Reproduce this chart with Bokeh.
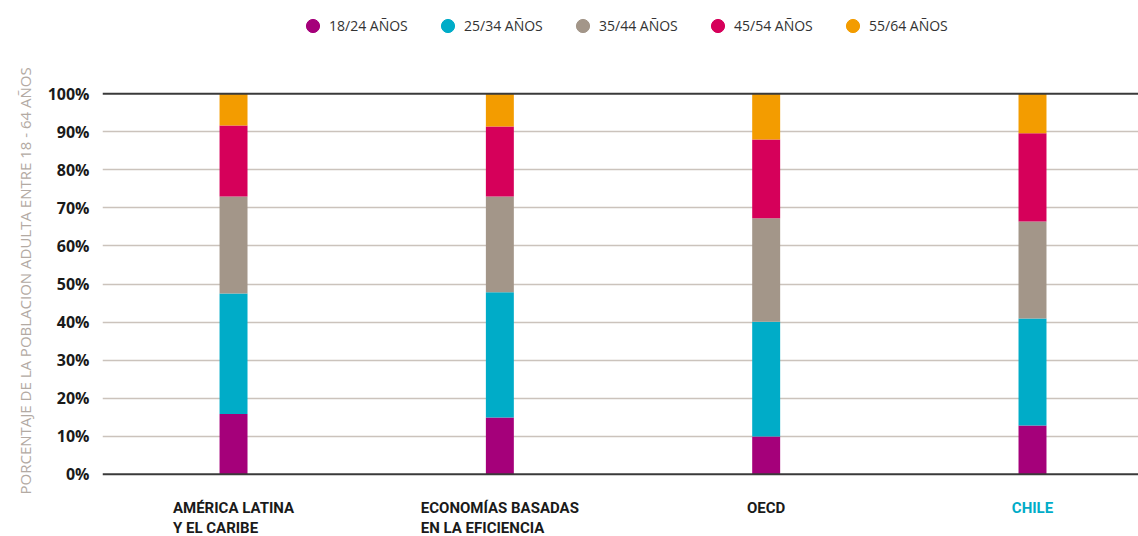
from bokeh.plotting import figure
from bokeh.models import (ColumnDataSource, Range1d, FixedTicker, PrintfTickFormatter,
                          Span, Legend, LegendItem, LabelSet, Title)
from bokeh.core.properties import value
from bokeh.embed import file_html
from bokeh.resources import INLINE

categories = ["AMÉRICA LATINA\nY EL CARIBE", "ECONOMÍAS BASADAS\nEN LA EFICIENCIA", "OECD", "CHILE"]
series = ["18/24 AÑOS", "25/34 AÑOS", "35/44 AÑOS", "45/54 AÑOS", "55/64 AÑOS"]
s_18_24 = [15.8, 14.9, 9.9, 12.8]
s_25_34 = [31.7, 32.9, 30.2, 28.1]
s_35_44 = [25.5, 25.2, 27.2, 25.5]
s_45_54 = [18.7, 18.4, 20.7, 23.2]
s_55_64 = [8.3, 8.6, 12.0, 10.4]
colors = ["#a5007a", "#00acc8", "#a39689", "#d6005a", "#f39c00"]
label_colors = ["#1a1a1a", "#1a1a1a", "#1a1a1a", "#00acc8"]
y_ticks = [0, 10, 20, 30, 40, 50, 60, 70, 80, 90, 100]
y_title = "PORCENTAJE DE LA POBLACION ADULTA ENTRE 18 - 64 AÑOS"

keys = ["a", "b", "c", "d", "e"]
data = dict(x=list(range(len(categories))))
for k, vals in zip(keys, [s_18_24, s_25_34, s_35_44, s_45_54, s_55_64]):
    data[k] = vals
source = ColumnDataSource(data)

p = figure(width=1138, height=536, output_backend="svg", toolbar_location=None,
           x_range=Range1d(-0.492, 3.398), y_range=Range1d(-16.38, 124.53),
           min_border_left=102, min_border_right=0, min_border_top=0, min_border_bottom=0)
p.outline_line_color = None
p.background_fill_color = None
p.border_fill_color = "white"

p.vbar_stack(keys, x="x", width=0.105, color=colors, source=source, line_color=None)

p.xaxis.visible = False
p.xgrid.visible = False
p.ygrid.ticker = FixedTicker(ticks=y_ticks[1:-1])
p.ygrid.grid_line_color = "#cbc3bc"
p.ygrid.grid_line_width = 1.3

for pos in (y_ticks[0], y_ticks[-1]):
    p.add_layout(Span(location=pos, dimension="width", line_color="#3a3a3a", line_width=2))

ya = p.yaxis[0]
ya.ticker = FixedTicker(ticks=y_ticks)
ya.formatter = PrintfTickFormatter(format="%d%%")
ya.axis_line_color = None
ya.major_tick_line_color = None
ya.minor_tick_line_color = None
ya.major_label_standoff = 7
ya.major_label_text_font = "Open Sans"
ya.major_label_text_font_size = "16px"
ya.major_label_text_font_style = "bold"
ya.major_label_text_color = "#1a1a1a"

p.add_layout(Title(text=y_title, align="left", offset=42, standoff=19,
                   text_font="Open Sans", text_font_size="15px", text_font_style="normal",
                   text_color="#b3aaa3"), "left")

lab_src = ColumnDataSource(dict(x=list(range(len(categories))), y=[0] * len(categories),
                                text=categories, color=label_colors))
p.add_layout(LabelSet(x="x", y="y", text="text", source=lab_src, y_offset=-25,
                      text_align="center", text_baseline="top", text_color="color",
                      text_font=value("Roboto"), text_font_size="15px",
                      text_font_style="bold", text_line_height=1.08))

items = []
nan = float("nan")
for name, col in zip(series, colors):
    r = p.scatter(x=[nan], y=[nan], marker="circle", size=13, color=col)
    items.append(LegendItem(label=name, renderers=[r]))
legend = Legend(items=items, orientation="horizontal", location=(194, 494),
                glyph_width=33, glyph_height=33, label_standoff=0, label_width=88,
                spacing=14, padding=0, margin=0,
                border_line_color=None, background_fill_alpha=0,
                label_text_font="Open Sans", label_text_font_size="14px",
                label_text_color="#333333")
p.add_layout(legend, "center")

open("out.html", "w").write(file_html(p, INLINE))
